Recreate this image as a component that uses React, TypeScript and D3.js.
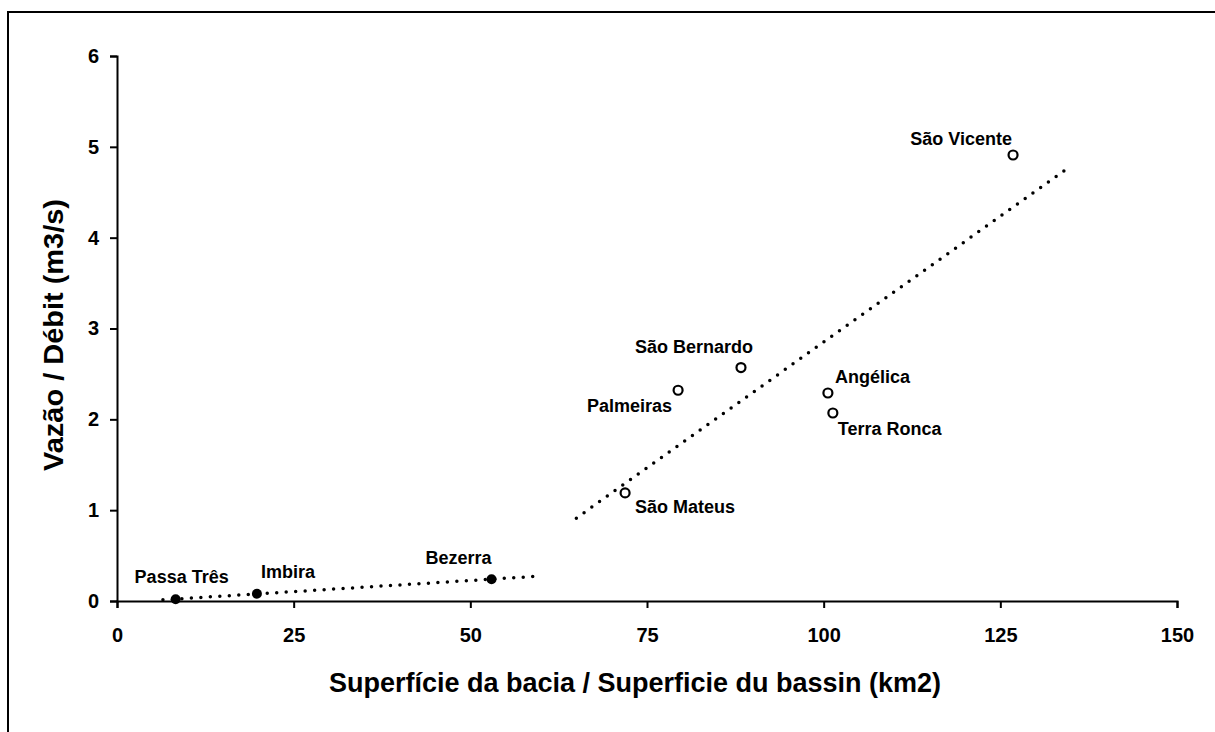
import { useEffect, useRef } from "react";
import * as d3 from "d3";

// filled points (small basins)
const smallNames = ["Passa Três", "Imbira", "Bezerra"];
const smallArea = [8.3, 19.8, 53];
const smallFlow = [0.02, 0.08, 0.24];

// open points (large basins)
const bigNames = ["São Mateus", "Palmeiras", "São Bernardo", "Angélica", "Terra Ronca", "São Vicente"];
const bigArea = [71.9, 79.4, 88.3, 100.6, 101.3, 126.8];
const bigFlow = [1.19, 2.32, 2.57, 2.29, 2.07, 4.91];

// trendline extents
const smallTrendRange = [6.5, 60];
const bigTrendRange = [65, 135];

const xTicks = [0, 25, 50, 75, 100, 125, 150];
const yTicks = [0, 1, 2, 3, 4, 5, 6];

const fit = (xs: number[], ys: number[]) => {
    const mx = d3.mean(xs)!;
    const my = d3.mean(ys)!;
    const sxy = d3.sum(xs, (x, i) => (x - mx) * (ys[i] - my));
    const sxx = d3.sum(xs, (x) => (x - mx) * (x - mx));
    const b = sxy / sxx;
    return (x: number) => my + b * (x - mx);
};

const App = () => {
    const svgRef = useRef<SVGSVGElement>(null);
    useEffect(() => {
        const w = 1215;
        const h = 732;
        const svg = d3.select(svgRef.current).attr("width", w).attr("height", h);
        svg.selectAll("*").remove();

        const font = "'Liberation Sans', Arial, sans-serif";

        // outer frame (only top and left edges are in view)
        svg.append("path")
            .attr("d", `M8,${h}V12H${w}`)
            .attr("fill", "none").attr("stroke", "#000").attr("stroke-width", 2);

        const x = d3.scaleLinear().domain([0, 150]).range([117, 1177]);
        const y = d3.scaleLinear().domain([0, 6]).range([601, 56]);

        const xAxis = d3.axisBottom(x).tickValues(xTicks).tickSize(7).tickPadding(20);
        const yAxis = d3.axisLeft(y).tickValues(yTicks).tickFormat(d3.format("d")).tickSize(7).tickPadding(11);

        const gx = svg.append("g").attr("transform", `translate(0,${y(0)})`).call(xAxis);
        const gy = svg.append("g").attr("transform", `translate(${x(0)},0)`).call(yAxis);
        [gx, gy].forEach((g) => {
            g.select(".domain").attr("stroke-width", 2);
            g.selectAll("line").attr("stroke-width", 2);
            g.selectAll("text")
                .attr("font-family", font)
                .attr("font-weight", "bold")
                .attr("font-size", 20)
                .attr("fill", "#000");
        });

        // trendlines
        const line = d3.line<number>().x((d) => x(d));
        const f1 = fit(smallArea, smallFlow);
        const f2 = fit(bigArea, bigFlow);
        [[smallTrendRange, f1], [bigTrendRange, f2]].forEach(([r, f]: any) => {
            svg.append("path")
                .attr("d", line.y((d) => y(f(d)))(r))
                .attr("fill", "none")
                .attr("stroke", "#000")
                .attr("stroke-width", 3.5)
                .attr("stroke-linecap", "round")
                .attr("stroke-dasharray", "0 9.5");
        });

        // points
        svg.selectAll(".filled")
            .data(smallArea)
            .join("circle")
            .attr("cx", (d) => x(d))
            .attr("cy", (d, i) => y(smallFlow[i]))
            .attr("r", 5)
            .attr("fill", "#000");

        svg.selectAll(".open")
            .data(bigArea)
            .join("circle")
            .attr("class", "open")
            .attr("cx", (d) => x(d))
            .attr("cy", (d, i) => y(bigFlow[i]))
            .attr("r", 4.5)
            .attr("fill", "#fff")
            .attr("stroke", "#000")
            .attr("stroke-width", 2.2);

        // point labels: offset of the baseline from the point [dx, dy, anchor]
        const smallOff: [number, number, string][] = [[6, -16, "middle"], [4, -16, "start"], [0, -15, "end"]];
        const bigOff: [number, number, string][] = [[10, 20, "start"], [-6, 22, "end"], [12, -15, "end"], [7, -10, "start"], [5, 22, "start"], [-1, -10, "end"]];

        const label = (names: string[], xs: number[], ys: number[], off: [number, number, string][]) => {
            names.forEach((n, i) => {
                svg.append("text")
                    .attr("x", x(xs[i]) + off[i][0])
                    .attr("y", y(ys[i]) + off[i][1])
                    .attr("text-anchor", off[i][2])
                    .attr("font-family", font)
                    .attr("font-weight", "bold")
                    .attr("font-size", 18)
                    .text(n);
            });
        };
        label(smallNames, smallArea, smallFlow, smallOff);
        label(bigNames, bigArea, bigFlow, bigOff);

        // axis titles
        svg.append("text")
            .attr("x", 635).attr("y", 692)
            .attr("text-anchor", "middle")
            .attr("font-family", font)
            .attr("font-weight", "bold")
            .attr("font-size", 27)
            .text("Superfície da bacia / Superficie du bassin (km2)");

        svg.append("text")
            .attr("transform", "translate(63,335) rotate(-90)")
            .attr("text-anchor", "middle")
            .attr("font-family", font)
            .attr("font-weight", "bold")
            .attr("font-size", 27)
            .attr("textLength", 272)
            .attr("lengthAdjust", "spacingAndGlyphs")
            .text("Vazão / Débit (m3/s)");
    }, []);

    return (
        <svg ref={svgRef} style={{ position: "absolute", left: 0, top: 0, display: "block" }}></svg>
    );
};

export default App;
